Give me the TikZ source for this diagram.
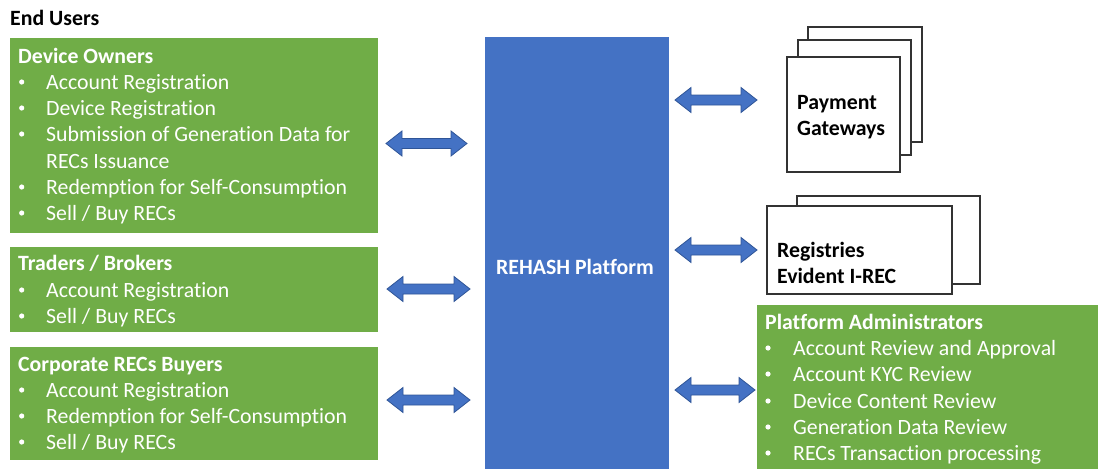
\documentclass[tikz,border=0pt]{standalone}
\usepackage{fontspec}
\setmainfont{Carlito}[Ligatures={NoCommon,NoRare,NoContextual}]
\definecolor{grn}{HTML}{70AD47}
\definecolor{blu}{HTML}{4472C4}
\definecolor{bluedge}{HTML}{2F5597}
\tikzset{
  txt/.style={inner sep=0pt, anchor=base west, font=\fontsize{21.8}{26}\selectfont},
  wtxt/.style={txt, text=white},
  hdr/.style={txt, text=white, font=\fontsize{21.8}{26}\selectfont\bfseries},
  bul/.style={circle, fill=white, inner sep=0pt, minimum size=5.2pt},
  greenbox/.style={fill=grn, draw=none},
  paper/.style={fill=white, draw=black!80, line width=1.1pt},
  barr/.style={fill=blu, draw=bluedge, line width=0.8pt, line join=miter}
}
\newcommand\itemat[4]{% name, bullet x, text x, baseline, text
  \node[bul] (#1b) at (#2,#4-7) {};
  \node[wtxt] (#1) at (#3,#4)}
\newcommand\barrow[4]{% name, x1, x2, y
  \coordinate (#1) at ({(#2+#3)/2},#4);
  \filldraw[barr] (#2,#4) -- (#2+16,#4-12.5) -- (#2+16,#4-5) -- (#3-16,#4-5)
    -- (#3-16,#4-12.5) -- (#3,#4) -- (#3-16,#4+12.5) -- (#3-16,#4+5)
    -- (#2+16,#4+5) -- (#2+16,#4+12.5) -- cycle;}
\begin{document}
\begin{tikzpicture}[x=1pt,y=-1pt]
\useasboundingbox (0,0) rectangle (1098,469);

\node[txt, font=\fontsize{21.8}{26}\selectfont\bfseries] (eu) at (10,25) {End Users};

% Device Owners
\fill[greenbox] (10,38) rectangle (378,233);
\node[hdr] (do) at (18,63) {Device Owners};
\itemat{do1}{21.7}{46}{89}{{Account Registration}};
\itemat{do2}{21.7}{46}{115}{{Device Registration}};
\itemat{do3}{21.7}{46}{141}{{Submission of Generation Data for}};
\node[wtxt] (do3b2) at (46,168) {RECs Issuance};
\itemat{do4}{21.7}{46}{194}{{Redemption for Self-Consumption}};
\itemat{do5}{21.7}{46}{220}{{Sell / Buy RECs}};

% Traders
\fill[greenbox] (10,247) rectangle (378,332);
\node[hdr] (tb) at (18,270) {Traders / Brokers};
\itemat{tb1}{21.7}{46}{297}{{Account Registration}};
\itemat{tb2}{21.7}{46}{323}{{Sell / Buy RECs}};

% Corporate
\fill[greenbox] (10,347) rectangle (378,460);
\node[hdr] (cb) at (18,371) {Corporate RECs Buyers};
\itemat{cb1}{21.7}{46}{397}{{Account Registration}};
\itemat{cb2}{21.7}{46}{423}{{Redemption for Self-Consumption}};
\itemat{cb3}{21.7}{46}{449}{{Sell / Buy RECs}};

% Platform
\fill[blu] (485,37) rectangle (669,469);
\node[hdr, anchor=base] (rp) at (575,274) {REHASH Platform};

% Payment gateways
\draw[paper] (808,27) rectangle (922,142);
\draw[paper] (798,40) rectangle (911,155);
\draw[paper] (787,57) rectangle (900,172);
\node[txt, font=\fontsize{21.8}{26}\selectfont\bfseries] (pg1) at (797,109) {Payment};
\node[txt, font=\fontsize{21.8}{26}\selectfont\bfseries] (pg2) at (797,135) {Gateways};

% Registries
\draw[paper] (797,196) rectangle (980,284);
\draw[paper] (767,206) rectangle (952,294);
\node[txt, font=\fontsize{21.8}{26}\selectfont\bfseries] (rg1) at (777,257) {Registries};
\node[txt, font=\fontsize{21.8}{26}\selectfont\bfseries] (rg2) at (777,283) {Evident I-REC};

% Platform administrators
\fill[greenbox] (757,305) rectangle (1098,469);
\node[hdr] (pa) at (765,329) {Platform Administrators};
\itemat{pa1}{768}{793}{355}{{Account Review and Approval}};
\itemat{pa2}{768}{793}{381}{{Account KYC Review}};
\itemat{pa3}{768}{793}{408}{{Device Content Review}};
\itemat{pa4}{768}{793}{434}{{Generation Data Review}};
\itemat{pa5}{768}{793}{460}{{RECs Transaction processing}};

% Arrows
\barrow{a1}{386}{467}{143.5}
\barrow{a2}{387}{470}{289}
\barrow{a3}{387}{470}{400}
\barrow{a4}{675}{757}{100}
\barrow{a5}{675}{757}{250}
\barrow{a6}{675}{755}{390}
\end{tikzpicture}
\end{document}
